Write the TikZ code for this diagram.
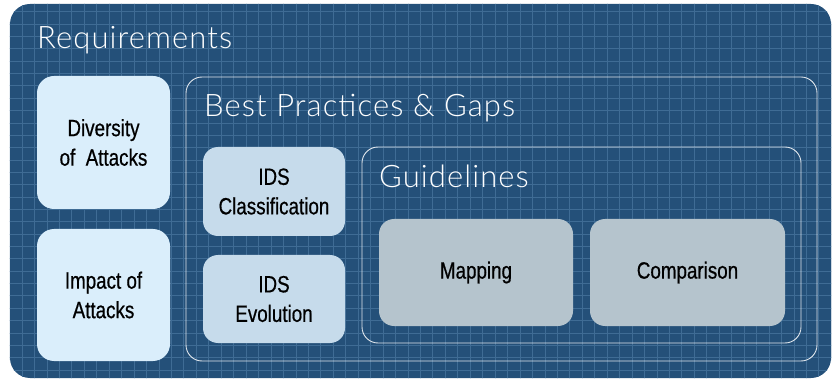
\documentclass[tikz,border=0pt]{standalone}
\usepackage{fontspec}
\setmainfont{Lato}
\newfontfamily\headfont[LetterSpace=3.5]{Lato Light}
\newfontfamily\boxfont[FakeStretch=0.8, FakeBold=0.6]{Liberation Sans}
\usetikzlibrary{calc}

\definecolor{bgblue}{HTML}{245079}
\definecolor{gridblue}{HTML}{3F6C95}
\definecolor{reqfill}{HTML}{DAEEFB}
\definecolor{idsfill}{HTML}{C6DBEB}
\definecolor{guidefill}{HTML}{B5C4CD}

\tikzset{
  x=1pt, y=-1pt,
  boxtext/.style={align=center, inner sep=0pt, text=black,
    font=\boxfont\fontsize{23.5}{29.5}\selectfont},
  reqbox/.style={boxtext, fill=reqfill, rounded corners=17pt,
    minimum width=133pt, minimum height=133pt},
  idsbox/.style={boxtext, fill=idsfill, rounded corners=15pt,
    minimum width=142pt, minimum height=89pt},
  guidebox/.style={boxtext, fill=guidefill, rounded corners=15pt,
    minimum width=194pt, minimum height=107pt},
  frame/.style={draw=white, draw opacity=0.85, line width=0.9pt,
    rounded corners=16pt, inner sep=0pt},
  heading/.style={anchor=base west, inner sep=0pt, text=white,
    font=\headfont\fontsize{31}{32}\selectfont},
}

\begin{document}
\begin{tikzpicture}
    \useasboundingbox (0,0) rectangle (832,379);

    % outer panel with the grid
    \node[fill=bgblue, rounded corners=20pt, inner sep=0pt,
      minimum width=821pt, minimum height=374pt] (panel) at (420.5,191) {};
    \begin{scope}
      \clip[rounded corners=20pt] (panel.north west) rectangle (panel.south east);
      \foreach \i in {0,...,66}
        \draw[gridblue, line width=0.7pt] (9.5+12.45*\i,0) -- ++(0,379);
      \foreach \j in {0,...,31}
        \draw[gridblue, line width=0.7pt] (0,-0.6+12.35*\j) -- ++(832,0);
    \end{scope}

    \node[heading] (reqtitle) at (37,48.5) {Requirements};
    \node[reqbox] (diversity) at (103.5,142.5) {Diversity\\of\ \ Attacks};
    \node[reqbox, minimum height=132pt] (impact) at (103.5,295) {Impact of\\Attacks};

    % best practices
    \node[frame, minimum width=631pt, minimum height=284pt] (bestframe) at (501.5,219) {};
    \node[heading] (besttitle) at (204,117) {Best Practices \& Gaps};
    \node[idsbox] (idsclass) at (274,191.5) {IDS\\Classification};
    \node[idsbox, minimum height=88pt] (idsevol) at (274,299) {IDS\\Evolution};

    % guidelines
    \node[frame, minimum width=439pt, minimum height=196pt] (guideframe) at (581.5,245) {};
    \node[heading] (guidetitle) at (379,188) {Guidelines};
    \node[guidebox] (mapping) at (476,272.5) {Mapping};
    \node[guidebox, minimum width=195pt] (comparison) at (687.5,272.5) {Comparison};
\end{tikzpicture}
\end{document}
